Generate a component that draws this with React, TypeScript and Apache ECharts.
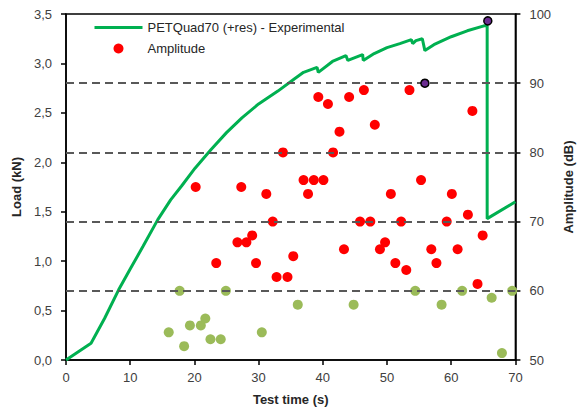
import React, { useEffect, useRef } from 'react';
import * as echarts from 'echarts';

// Load curve (time in s, load in kN)
const loadTime = [0, 3.9, 6, 8.2, 10, 12, 14.3, 16.3, 18, 20.1, 22.6, 25, 27.4, 30, 33, 35.5, 37, 39.1, 39.3, 41.5, 43.6, 43.9, 46.2, 46.3, 48, 50, 52, 53.8, 54, 54.5, 55.5, 55.9, 57.3, 60, 62.5, 65.1, 65.6, 65.6, 70];
const loadKN = [0, 0.17, 0.42, 0.71, 0.92, 1.15, 1.42, 1.62, 1.76, 1.94, 2.13, 2.3, 2.45, 2.59, 2.72, 2.84, 2.91, 2.96, 2.91, 3.02, 3.08, 3.03, 3.09, 3.03, 3.1, 3.16, 3.2, 3.24, 3.2, 3.23, 3.25, 3.13, 3.19, 3.27, 3.33, 3.38, 3.38, 1.43, 1.6];

// Amplitude hits (red)
const ampTime = [20.2, 23.4, 26.7, 27.3, 28.1, 29.0, 29.6, 31.2, 32.2, 32.8, 33.8, 34.5, 35.4, 37.0, 37.7, 38.6, 39.3, 40.1, 40.8, 41.6, 42.6, 43.3, 44.1, 45.8, 46.4, 47.4, 48.1, 48.9, 49.7, 50.6, 51.3, 52.2, 53.0, 53.5, 55.3, 56.9, 57.7, 59.3, 60.1, 61.0, 62.6, 63.3, 64.1, 64.9];
const ampDb = [75, 64, 67, 75, 67, 68, 64, 74, 70, 62, 80, 62, 65, 76, 74, 76, 88, 76, 87, 80, 83, 66, 88, 70, 89, 70, 84, 66, 67, 74, 64, 70, 63, 89, 76, 66, 64, 70, 74, 66, 71, 86, 61, 68];

// Low-amplitude hits (light green)
const lowTime = [16.0, 17.7, 18.4, 19.3, 21.0, 21.7, 22.5, 24.1, 24.9, 30.5, 36.1, 44.8, 54.4, 58.5, 61.7, 66.3, 67.9, 69.5];
const lowDb = [54, 60, 52, 55, 55, 56, 53, 53, 60, 54, 58, 58, 60, 58, 60, 59, 51, 60];

// Peak hits (purple)
const peakTime = [55.9, 65.7];
const peakDb = [90, 99];

// Reference dashed levels (dB)
const dashLevels = [60, 70, 80, 90];

const FONT = 'Liberation Sans';

export default function App() {
  const ref = useRef<HTMLDivElement>(null);
  useEffect(() => {
    if (!ref.current) return;
    const chart = echarts.init(ref.current, undefined, { renderer: 'svg' });
    const axisLineStyle = { color: '#000', width: 1.5 };
    const labelStyle = { color: '#404040', fontSize: 13, fontFamily: FONT };
    const nameStyle = { fontWeight: 'bold' as const, fontSize: 13, color: '#262626', fontFamily: FONT };
    chart.setOption({
      animation: false,
      backgroundColor: '#fff',
      textStyle: { fontFamily: FONT },
      grid: { left: 66, right: 56, top: 14, bottom: 52, show: true, borderColor: '#000', borderWidth: 1.5 },
      legend: {
        left: 88,
        top: 16,
        orient: 'vertical',
        itemWidth: 48,
        itemHeight: 10,
        itemGap: 8,
        selectedMode: false,
        data: [
          { name: 'PETQuad70 (+res) - Experimental', itemStyle: { opacity: 0 }, lineStyle: { width: 3 } },
          { name: 'Amplitude' },
        ],
        textStyle: { fontSize: 13, color: '#262626', fontFamily: FONT },
      },
      xAxis: {
        type: 'value',
        min: 0,
        max: 70,
        interval: 10,
        axisLine: { show: true, lineStyle: axisLineStyle },
        axisTick: { show: true, length: 5, lineStyle: axisLineStyle },
        axisLabel: { ...labelStyle, margin: 11 },
        splitLine: { show: false },
        name: 'Test time (s)',
        nameLocation: 'middle',
        nameGap: 33,
        nameTextStyle: nameStyle,
      },
      yAxis: [
        {
          type: 'value',
          min: 0,
          max: 3.5,
          interval: 0.5,
          axisLine: { show: true, lineStyle: axisLineStyle },
          axisTick: { show: true, length: 5, lineStyle: axisLineStyle },
          axisLabel: { ...labelStyle, margin: 14, formatter: (v: number) => v.toFixed(1).replace('.', ',') },
          splitLine: { show: false },
          name: 'Load (kN)',
          nameLocation: 'middle',
          nameGap: 41,
          nameTextStyle: nameStyle,
        },
        {
          type: 'value',
          position: 'right',
          min: 50,
          max: 100,
          interval: 10,
          axisLine: { show: true, lineStyle: axisLineStyle },
          axisTick: { show: true, length: 5, lineStyle: axisLineStyle },
          axisLabel: { ...labelStyle, margin: 14 },
          splitLine: { show: false },
          name: 'Amplitude (dB)',
          nameLocation: 'middle',
          nameGap: 40,
          nameTextStyle: nameStyle,
        },
      ],
      series: [
        {
          name: 'dashes',
          type: 'line',
          yAxisIndex: 1,
          data: [],
          silent: true,
          markLine: {
            silent: true,
            symbol: 'none',
            label: { show: false },
            lineStyle: { type: [8, 5], color: '#595959', width: 2 },
            data: dashLevels.map((v) => ({ yAxis: v })),
          },
        },
        {
          name: 'PETQuad70 (+res) - Experimental',
          type: 'line',
          yAxisIndex: 0,
          symbol: 'none',
          lineStyle: { color: '#00B050', width: 3 },
          itemStyle: { color: '#00B050' },
          data: loadTime.map((t, i) => [t, loadKN[i]]),
          z: 3,
        },
        {
          name: 'Amplitude',
          type: 'scatter',
          yAxisIndex: 1,
          symbolSize: 10,
          itemStyle: { color: '#FF0000', opacity: 1 },
          data: ampTime.map((t, i) => [t, ampDb[i]]),
          z: 4,
        },
        {
          name: 'Low',
          type: 'scatter',
          yAxisIndex: 1,
          symbolSize: 10,
          itemStyle: { color: '#9BBB59', opacity: 1 },
          data: lowTime.map((t, i) => [t, lowDb[i]]),
          z: 4,
        },
        {
          name: 'Peak',
          type: 'scatter',
          yAxisIndex: 1,
          symbolSize: 8,
          itemStyle: { color: '#6B2C91', borderColor: '#000', borderWidth: 1.5, opacity: 1 },
          data: peakTime.map((t, i) => [t, peakDb[i]]),
          z: 5,
        },
      ],
    });
    return () => chart.dispose();
  }, []);
  return (
    <div
      ref={ref}
      style={{ position: 'fixed', left: 0, top: 0, width: 583, height: 412, background: '#fff' }}
    />
  );
}
